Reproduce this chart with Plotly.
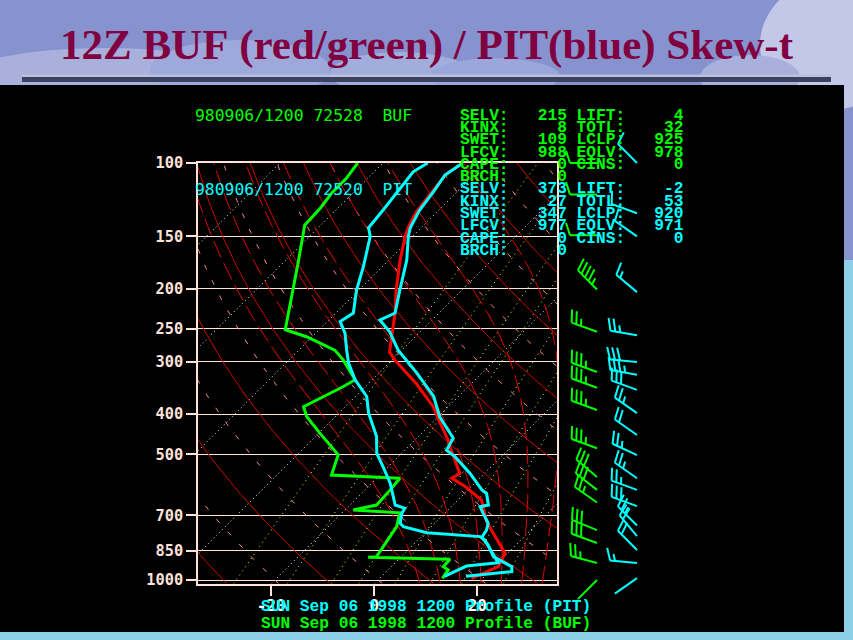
import numpy as np
import plotly.graph_objects as go

# ---------------- data ----------------
BUF_T_P = [991, 929, 863, 773, 725, 643, 597, 570, 555, 479, 462, 413, 384, 338, 297, 284, 261, 229, 202, 171, 150, 142, 131, 116, 106, 100]
BUF_T = [17.9, 20.8, 19.5, 13.3, 9.8, 4.6, -1.2, -5.4, -4.8, -11.9, -13.5, -19.3, -22.9, -30.7, -39.4, -42.0, -44.6, -48.5, -52.7, -57.8, -61.4, -62.7, -64.0, -65.0, -65.6, -64.5]

BUF_TD_P = [991, 946, 929, 892, 882, 879, 745, 711, 690, 679, 661, 608, 570, 560, 501, 445, 406, 384, 344, 331, 297, 281, 261, 251, 202, 174, 141, 128, 118, 109, 100]
BUF_TD = [12.2, 11.7, 10.1, 10.0, -6.3, -4.8, -6.7, -8.0, -8.8, -18.4, -14.8, -15.1, -15.5, -29.4, -32.0, -39.7, -45.5, -48.1, -44.3, -43.3, -49.4, -53.0, -61.1, -66.6, -72.7, -77.0, -83.1, -83.4, -84.1, -84.1, -84.9]

PIT_T_P = [980, 955, 929, 879, 824, 790, 759, 731, 692, 667, 661, 620, 608, 555, 506, 488, 457, 406, 363, 319, 281, 254, 238, 229, 202, 171, 150, 143, 130, 117, 107, 100]
PIT_T = [16.4, 24.4, 23.4, 17.9, 14.6, 11.9, 11.4, 10.4, 7.5, 5.6, 6.9, 4.3, 2.7, -2.8, -9.0, -11.9, -12.9, -19.7, -24.8, -32.6, -40.7, -45.9, -50.1, -48.5, -52.0, -56.5, -60.8, -62.1, -63.7, -64.6, -65.6, -64.5]

PIT_TD_P = [980, 926, 909, 840, 802, 787, 780, 770, 745, 731, 692, 673, 661, 586, 535, 497, 453, 398, 363, 331, 302, 281, 256, 240, 229, 202, 177, 150, 143, 130, 105, 100]
PIT_TD = [12.2, 14.5, 20.0, 15.6, 13.0, 11.4, 6.6, 0.3, -5.4, -6.7, -8.3, -8.7, -11.2, -16.4, -21.0, -24.8, -28.1, -34.2, -37.8, -43.3, -47.8, -50.7, -54.3, -57.5, -56.6, -60.4, -63.7, -68.2, -70.2, -70.8, -72.4, -71.3]

BUF_WIND_P = [1000, 910, 815, 759, 652, 608, 566, 483, 391, 346, 317, 254, 201, 149, 119, 100]
BUF_WIND_DIR = [225, 285, 290, 292, 305, 308, 310, 290, 290, 290, 290, 290, 315, 270, 270, 270]
BUF_WIND_SPD = [5, 25, 30, 30, 25, 30, 30, 35, 35, 35, 35, 25, 45, 10, 10, 10]

PIT_WIND_P = [990, 910, 847, 785, 740, 665, 608, 570, 502, 449, 398, 350, 322, 300, 259, 204, 150, 132, 100]
PIT_WIND_DIR = [235, 275, 315, 320, 315, 290, 290, 305, 295, 305, 305, 290, 280, 275, 280, 310, 305, 290, 315]
PIT_WIND_SPD = [5, 15, 20, 20, 25, 30, 25, 25, 25, 20, 25, 30, 35, 30, 25, 15, 10, 10, 10]

P_TICKS = [100, 150, 200, 250, 300, 400, 500, 700, 850, 1000]
T_TICKS = [-20, 0, 20]

ISOTHERMS = list(range(-160, 60, 20))
DRY_ADIABATS = list(range(-40, 210, 10))          # theta (deg C)
MIX_RATIOS = [0.4, 1, 2, 3, 5, 8, 12, 20]          # g/kg
MOIST_ADIABATS = [8, 12, 16, 20, 24, 28, 32]       # theta-w (deg C)

STAT_L_NAMES = ["SELV", "KINX", "SWET", "LFCV", "CAPE", "BRCH"]
STAT_R_NAMES = ["LIFT", "TOTL", "LCLP", "EQLV", "CINS"]
BUF_L_VALS = [215, 8, 109, 988, 0, 0]
BUF_R_VALS = [4, 32, 925, 978, 0]
PIT_L_VALS = [373, 27, 347, 977, 0, 0]
PIT_R_VALS = [-2, 53, 920, 971, 0]

TITLE = "12Z BUF (red/green) / PIT(blue) Skew-t"
BUF_HEAD = "980906/1200 72528  BUF"
PIT_HEAD = "980906/1200 72520  PIT"
PIT_FOOT = "SUN Sep 06 1998 1200 Profile (PIT)"
BUF_FOOT = "SUN Sep 06 1998 1200 Profile (BUF)"

# ---------------- geometry / style ----------------
W, H = 853, 640
P_BOT, P_TOP = 1020.0, 100.0
BOX_L, BOX_R, BOX_T = 198.0, 557.0, 163.0
PXLN = 181.1
X0PX = 374.3
PX_PER_C = 5.15
K = PXLN / PX_PER_C
BOX_B = BOX_T + PXLN * np.log(P_BOT / P_TOP)

SKY = "#8693cf"
FRAME = "#ffe2d8"
GREEN = "#00ff00"
CYAN = "#00ffff"
RED = "#ff0000"


def skx(T, p):
    return np.asarray(T, float) + K * np.log(P_BOT / np.asarray(p, float))


PGRID = np.geomspace(P_BOT, P_TOP, 80)

fig = go.Figure()


def add_family(lines, color, width, dash):
    xs, ys = [], []
    for x, y in lines:
        xs += list(x) + [None]
        ys += list(y) + [None]
    fig.add_trace(go.Scatter(x=xs, y=ys, mode="lines", hoverinfo="skip",
                             line=dict(color=color, width=width, dash=dash)))


# isotherms
add_family([(skx(np.full_like(PGRID, t), PGRID), PGRID) for t in ISOTHERMS],
           "white", 1, "1px,3px")

# dry adiabats (solid red / dashed pink, alternating)
solid, dashed = [], []
for th in DRY_ADIABATS:
    T = (th + 273.15) * (PGRID / 1000.0) ** 0.2857 - 273.15
    (solid if th % 20 != 0 else dashed).append((skx(T, PGRID), PGRID))
add_family(solid, "#cc0000", 1, "solid")
add_family(dashed, "#ff8a8a", 1, "5px,12px")

# mixing-ratio lines
mix = []
for w in MIX_RATIOS:
    e = w * PGRID / (622.0 + w)
    a = np.log(e / 6.112)
    T = 243.5 * a / (17.67 - a)
    mix.append((skx(T, PGRID), PGRID))
add_family(mix, "#ffff00", 1, "1px,4px")

# moist adiabats
Rd, cp, Lv, eps = 287.04, 1005.7, 2.501e6, 0.622


def dTdp(T, p):
    es = 6.112 * np.exp(17.67 * (T - 273.15) / (T - 29.65))
    r = eps * es / (p - es)
    return (Rd * T + Lv * r) / (cp + Lv * Lv * r * eps / (Rd * T * T)) / p


def integ(T0, p0, p1, n):
    ps = np.linspace(p0, p1, n + 1)
    Ts = [T0]
    T = T0
    for i in range(n):
        h = ps[i + 1] - ps[i]
        k1 = dTdp(T, ps[i])
        k2 = dTdp(T + h * k1, ps[i + 1])
        T = T + h * (k1 + k2) / 2
        Ts.append(T)
    return ps, np.array(Ts)


moist = []
for tw in MOIST_ADIABATS:
    pd_, Td_ = integ(tw + 273.15, 1000.0, P_BOT, 20)
    pu_, Tu_ = integ(tw + 273.15, 1000.0, P_TOP, 450)
    pp = np.concatenate([pd_[::-1], pu_[1:]])
    TT = np.concatenate([Td_[::-1], Tu_[1:]]) - 273.15
    moist.append((skx(TT, pp), pp))
add_family(moist, "#e00000", 1, "18px,6px")

# sounding profiles
for T, p, c in [(BUF_T, BUF_T_P, RED), (BUF_TD, BUF_TD_P, GREEN),
                (PIT_T, PIT_T_P, CYAN), (PIT_TD, PIT_TD_P, CYAN)]:
    fig.add_trace(go.Scatter(x=skx(T, p), y=p, mode="lines", hoverinfo="skip",
                             line=dict(color=c, width=3)))

# wind barbs on their own axes (x in pixel units, y log pressure)
BARB_L, BARB_R = 560.0, 662.0
BARB_TOPPX, BARB_BOTPX = 100.0, 612.0
BUF_STN_X, PIT_STN_X = 597.0, 637.0


def barb_lines(x0, ps, dirs, spds, L=27.0, flen=13.0, gap=5.0, ang=72.0):
    X, Y = [], []

    def seg(a, b, p):
        X.extend([x0 + a[0], x0 + b[0], None])
        Y.extend([p * np.exp(a[1] / PXLN), p * np.exp(b[1] / PXLN), None])

    for p, d, s in zip(ps, dirs, spds):
        r = np.radians(d)
        sx, sy = np.sin(r), -np.cos(r)
        qx, qy = -sy, sx
        a = np.radians(ang)
        fx = np.cos(a) * sx + np.sin(a) * qx
        fy = np.cos(a) * sy + np.sin(a) * qy
        seg((0, 0), (L * sx, L * sy), p)
        s5 = int(round(s / 5.0)) * 5
        n10, rem = divmod(s5, 10)
        pos = L
        for _ in range(n10):
            b = (pos * sx, pos * sy)
            seg(b, (b[0] + flen * fx, b[1] + flen * fy), p)
            pos -= gap
        if rem >= 5 and s5 > 5:
            if n10 == 0:
                pos -= gap
            b = (pos * sx, pos * sy)
            seg(b, (b[0] + 0.55 * flen * fx, b[1] + 0.55 * flen * fy), p)
    return X, Y


for stx, ps, ds, ss, c in [(BUF_STN_X, BUF_WIND_P, BUF_WIND_DIR, BUF_WIND_SPD, GREEN),
                           (PIT_STN_X, PIT_WIND_P, PIT_WIND_DIR, PIT_WIND_SPD, CYAN)]:
    bx, by = barb_lines(stx, ps, ds, ss)
    fig.add_trace(go.Scatter(x=bx, y=by, mode="lines", hoverinfo="skip",
                             xaxis="x2", yaxis="y2", line=dict(color=c, width=2)))


# ---------------- layout ----------------
def py2p(py):
    return 1 - py / H


shapes = []
for (x0, y0, x1, y1, col) in [(-60, 48, 270, 130, "#a9b0dc"), (150, 40, 330, 100, "#9ea8da"),
                              (330, 52, 470, 95, "#a3addb"), (430, 58, 560, 95, "#9aa6dc"),
                              (760, -20, 900, 110, "#c3c8e8"), (700, 55, 800, 100, "#a9b0dc")]:
    shapes.append(dict(type="circle", xref="paper", yref="paper", layer="below",
                       x0=x0 / W, x1=x1 / W, y0=py2p(y1), y1=py2p(y0),
                       fillcolor=col, line=dict(width=0)))
shapes.append(dict(type="rect", xref="paper", yref="paper", layer="below",
                   x0=844 / W, x1=1, y0=0, y1=py2p(260), fillcolor="#8ecfe8", line=dict(width=0)))
shapes.append(dict(type="rect", xref="paper", yref="paper", layer="below",
                   x0=0, x1=1, y0=0, y1=py2p(632), fillcolor="#8ecfe8", line=dict(width=0)))
shapes.append(dict(type="rect", xref="paper", yref="paper", layer="below",
                   x0=22 / W, x1=831 / W, y0=py2p(77), y1=py2p(74.5), fillcolor="#bcc0dc", line=dict(width=0)))
shapes.append(dict(type="rect", xref="paper", yref="paper", layer="below",
                   x0=22 / W, x1=831 / W, y0=py2p(82), y1=py2p(77), fillcolor="#3a4260", line=dict(width=0)))
shapes.append(dict(type="rect", xref="paper", yref="paper", layer="below",
                   x0=0, x1=844 / W, y0=py2p(632), y1=py2p(85), fillcolor="black", line=dict(width=0)))

annotations = []


def txt(s, px, py, color, family, size, weight="normal", xanchor="left"):
    annotations.append(dict(text=s.replace(" ", "\u00a0"), x=px / W, y=py2p(py), xref="paper", yref="paper",
                            xanchor=xanchor, yanchor="middle", showarrow=False,
                            font=dict(family=family, size=size, color=color, weight=weight)))


txt(TITLE, W / 2, 45, "#800040", "Liberation Serif", 43, "bold", xanchor="center")
txt(BUF_HEAD, 193, 115.5, GREEN, "DejaVu Sans Mono", 16.4)
txt(PIT_HEAD, 193, 189.5, CYAN, "DejaVu Sans Mono", 16.4)

for k, (names_l, names_r, vl, vr, c, y0) in enumerate([
        (STAT_L_NAMES, STAT_R_NAMES, BUF_L_VALS, BUF_R_VALS, GREEN, 115.7),
        (STAT_L_NAMES, STAT_R_NAMES, PIT_L_VALS, PIT_R_VALS, CYAN, 189.3)]):
    for i, nm in enumerate(names_l):
        s = f"{nm}:{vl[i]:>6}"
        if i < len(names_r):
            s += f" {names_r[i]}:{vr[i]:>6}"
        txt(s, 457.5, y0 + i * 12.3, c, "Liberation Mono", 16.2, "bold")

txt(PIT_FOOT, 259, 607, CYAN, "Liberation Mono", 16.2, "bold")
txt(BUF_FOOT, 259, 623.5, GREEN, "Liberation Mono", 16.2, "bold")

tickfont = dict(family="DejaVu Sans Mono", size=15.3, color=FRAME, weight="bold")

fig.update_layout(
    width=W, height=H, autosize=False,
    margin=dict(l=0, r=0, t=0, b=0, pad=0, autoexpand=False),
    paper_bgcolor=SKY, plot_bgcolor="black", showlegend=False,
    shapes=shapes, annotations=annotations,
    xaxis=dict(domain=[BOX_L / W, BOX_R / W],
               range=[(BOX_L - X0PX) / PX_PER_C, (BOX_R - X0PX) / PX_PER_C],
               tickvals=T_TICKS, ticktext=[str(t) for t in T_TICKS],
               ticks="outside", ticklen=11, tickwidth=1.5, tickcolor=FRAME,
               ticklabelstandoff=-5,
               tickfont=dict(family="DejaVu Sans Mono", size=16, color="white", weight="bold"),
               showgrid=False, zeroline=False, showline=True, linecolor=FRAME, linewidth=1.5,
               mirror=True, fixedrange=True, automargin=False),
    yaxis=dict(domain=[py2p(BOX_B), py2p(BOX_T)], type="log",
               range=[np.log10(P_BOT), np.log10(P_TOP)],
               tickvals=P_TICKS, ticktext=[str(p) for p in P_TICKS],
               ticks="outside", ticklen=10, tickwidth=1.5, tickcolor=FRAME, tickfont=tickfont,
               showgrid=True, gridcolor=FRAME, gridwidth=1.3, zeroline=False,
               showline=True, linecolor=FRAME, linewidth=1.5, mirror=True, fixedrange=True,
               automargin=False),
    xaxis2=dict(domain=[BARB_L / W, BARB_R / W], range=[BARB_L, BARB_R], visible=False,
                anchor="y2", fixedrange=True, automargin=False),
    yaxis2=dict(domain=[py2p(BARB_BOTPX), py2p(BARB_TOPPX)], type="log",
                range=[np.log10(P_TOP * np.exp((BARB_BOTPX - BOX_T) / PXLN)),
                       np.log10(P_TOP * np.exp((BARB_TOPPX - BOX_T) / PXLN))],
                visible=False, anchor="x2", fixedrange=True, automargin=False),
)

fig.write_html("out.html", config={"displayModeBar": False},
               post_script="document.documentElement.style.margin='0';"
                           "document.documentElement.style.background='" + SKY + "';"
                           "document.body.style.background='" + SKY + "';"
                           "document.body.style.margin='0';"
                           "document.body.style.overflow='hidden';")
